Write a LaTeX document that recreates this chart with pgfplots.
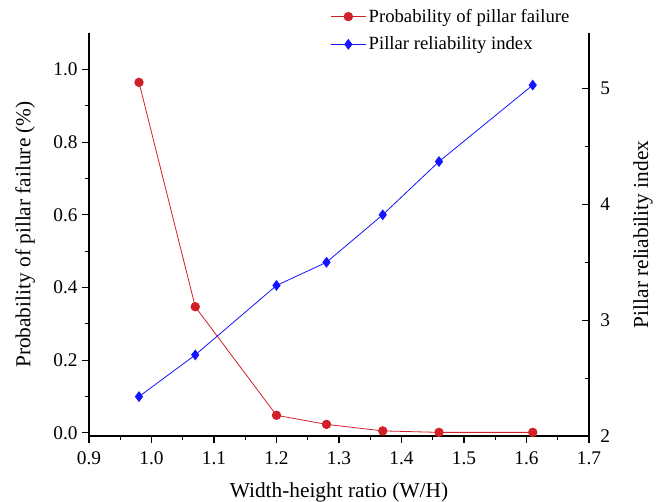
\documentclass[border=0pt]{standalone}
\usepackage{fontspec}
\setmainfont{Liberation Serif}
\usepackage{pgfplots}
\pgfplotsset{compat=1.18}
\definecolor{myred}{RGB}{208,32,40}
\definecolor{myblue}{RGB}{20,20,255}
\begin{document}
\begin{tikzpicture}
\pgfplotsset{
  common/.style={
    scale only axis, width=375pt, height=302.25pt,
    xmin=0.9, xmax=1.7,
    /pgf/number format/assume math mode=true,
    tick label style={font=\fontsize{14.5}{17}\selectfont},
    label style={font=\fontsize{16}{19}\selectfont},
    axis line style={line width=0.9pt},
    major tick length=5pt, minor tick length=3pt,
    every tick/.style={black, line width=0.8pt},
  }
}
\begin{axis}[common, name=ax1,
  axis x line*=bottom, axis y line*=left,
  ymin=-0.009, ymax=1.101,
  xtick={0.9,1.0,1.1,1.2,1.3,1.4,1.5,1.6,1.7},
  ytick={0,0.2,0.4,0.6,0.8,1.0},
  minor x tick num=1, minor y tick num=1,
  tick align=outside,
  xticklabel style={yshift=-3pt, /pgf/number format/.cd, fixed, fixed zerofill, precision=1},
  yticklabel style={/pgf/number format/.cd, fixed, fixed zerofill, precision=1},
  xlabel={Width-height ratio (W/H)},
  ylabel={Probability of pillar failure (\%)},
  xlabel style={yshift=-7pt},
  ylabel style={yshift=7pt},
]
\addplot[myred, line width=0.6pt, mark=*, mark size=3.2pt, mark options={solid, fill=myred}]
  coordinates {(0.98,0.965) (1.07,0.347) (1.20,0.048) (1.28,0.023) (1.37,0.005) (1.46,0.001) (1.61,0.001)};
\end{axis}
\begin{axis}[common,
  axis y line*=right, axis x line=none,
  ymin=2, ymax=5.48,
  ytick={2,3,4,5},
  minor y tick num=1,
  tick align=inside,
  yticklabel style={xshift=5pt},
  ylabel={Pillar reliability index},
  ylabel style={yshift=-10.5pt},
  legend style={at={(0.48,1.07)}, anchor=north west, draw=none, fill=none,
    font=\fontsize{14}{17}\selectfont, row sep=5.5pt, inner sep=1pt},
  legend cell align=left,
  legend image code/.code={\draw[mark repeat=2, mark phase=2] plot coordinates {(0pt,0pt) (13pt,0pt) (26pt,0pt)};},
]
\addlegendimage{myred, line width=0.6pt, mark=*, mark size=3.2pt, mark options={solid, fill=myred}}
\addlegendentry{Probability of pillar failure}
\addplot[myblue, line width=0.6pt, mark=diamond*, mark size=3.6pt, mark options={solid, fill=myblue}]
  coordinates {(0.98,2.34) (1.07,2.70) (1.20,3.30) (1.28,3.50) (1.37,3.91) (1.46,4.37) (1.61,5.03)};
\addlegendentry{Pillar reliability index}
\end{axis}
\pgfresetboundingbox
\path ([shift={(-66.75pt,-49.5pt)}]ax1.south west) rectangle ([shift={(54.75pt,24.75pt)}]ax1.north east);
\end{tikzpicture}
\end{document}
